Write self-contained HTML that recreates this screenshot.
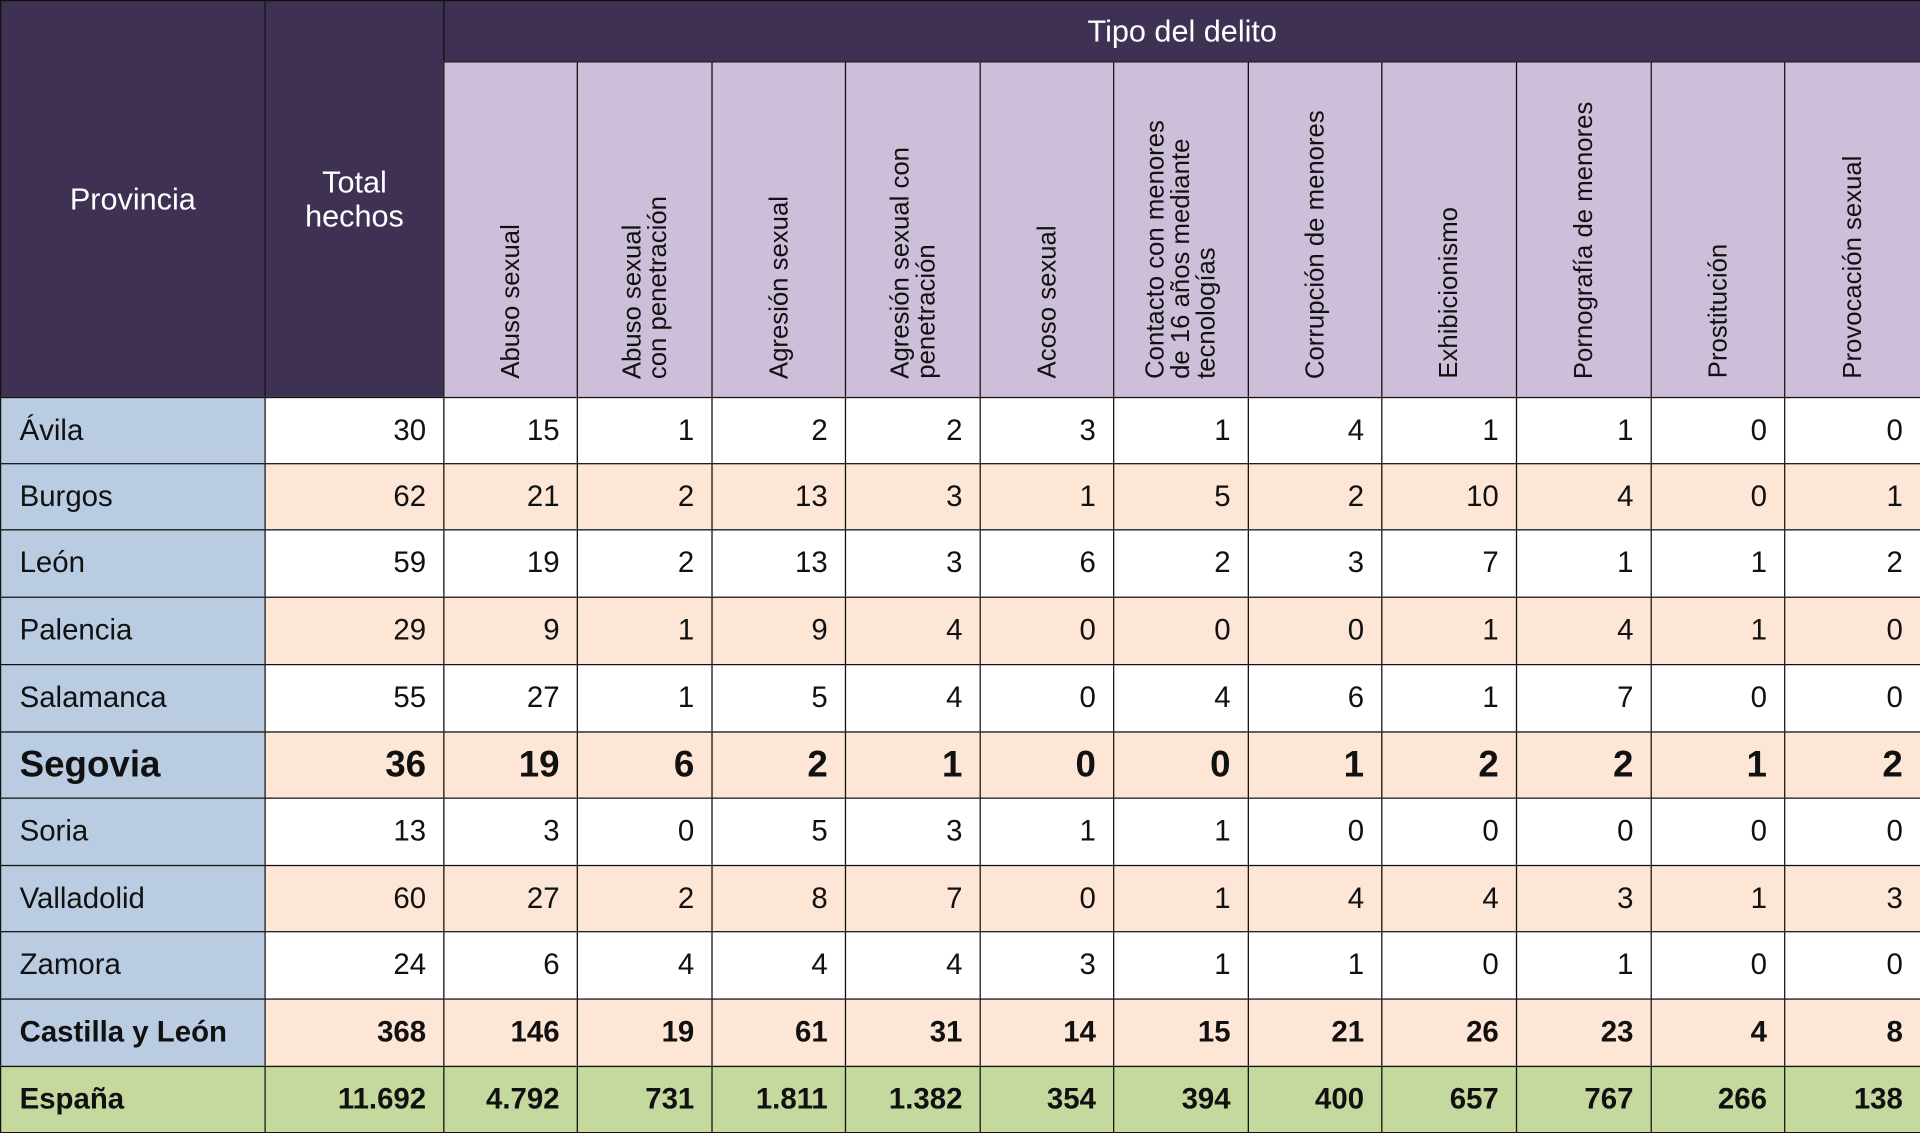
<!DOCTYPE html>
<html><head><meta charset="utf-8"><style>
html,body{margin:0;padding:0;background:#fff;overflow:hidden}
#wrap{position:absolute;left:0;top:0;width:1568px;height:924px;transform:scale(1.22449,1.22511);transform-origin:0 0;font-family:"Liberation Sans","DejaVu Sans",sans-serif}
.c{position:absolute;box-sizing:border-box;border:1.6px solid #111;display:flex;align-items:center}
.n{justify-content:flex-end;padding-right:14px;font-size:24px;color:#111}
.p{padding-left:15px;font-size:24px;color:#111;background:#b9cce2}
.h{background:#3f3153;color:#fff;justify-content:center;text-align:center;font-size:25px;line-height:28px}
.v{background:#cdbfd9;align-items:flex-end;justify-content:center;padding-bottom:15px}
.v span{writing-mode:vertical-rl;transform:rotate(180deg);font-size:21px;line-height:21px;color:#111;text-align:start}
.b{font-weight:bold}
</style></head><body><div id="wrap"></div>
<script>
const X=[0,216,362,471,581,690,800,909,1019,1128,1238,1348,1457,1568];
const Y=[324,378,432,487,542,597,651,706,760,815,870,924];
const W=document.getElementById('wrap');
function cell(x0,y0,x1,y1,cls,html,bg){const d=document.createElement('div');d.className='c '+cls;d.style.left=x0+'px';d.style.top=y0+'px';d.style.width=(x1-x0+1)+'px';d.style.height=(y1-y0+1)+'px';if(bg)d.style.background=bg;d.innerHTML=html;W.appendChild(d);}
cell(0,0,216,324,'h','Provincia');
cell(216,0,362,324,'h','Total<br>hechos');
cell(362,0,1568,50,'h','Tipo del delito');
const hd=['Abuso sexual','Abuso sexual<br>con penetración','Agresión sexual','Agresión sexual con<br>penetración','Acoso sexual','Contacto con menores<br>de 16 años mediante<br>tecnologías','Corrupción de menores','Exhibicionismo','Pornografía de menores','Prostitución','Provocación sexual'];
hd.forEach((t,i)=>cell(X[i+2],50,X[i+3],324,'v','<span>'+t+'</span>'));
const rows=[
['Ávila',30,15,1,2,2,3,1,4,1,1,0,0],
['Burgos',62,21,2,13,3,1,5,2,10,4,0,1],
['León',59,19,2,13,3,6,2,3,7,1,1,2],
['Palencia',29,9,1,9,4,0,0,0,1,4,1,0],
['Salamanca',55,27,1,5,4,0,4,6,1,7,0,0],
['Segovia',36,19,6,2,1,0,0,1,2,2,1,2],
['Soria',13,3,0,5,3,1,1,0,0,0,0,0],
['Valladolid',60,27,2,8,7,0,1,4,4,3,1,3],
['Zamora',24,6,4,4,4,3,1,1,0,1,0,0],
['Castilla y León',368,146,19,61,31,14,15,21,26,23,4,8],
['España','11.692','4.792',731,'1.811','1.382',354,394,400,657,767,266,138]];
rows.forEach((r,j)=>{
 const y0=Y[j],y1=Y[j+1];
 let bg=j%2==0?'#ffffff':'#fde6d6';
 let extra='',st='';
 if(j==5){extra=' b';st='font-size:30px';}
 if(j>=9)extra=' b';
 if(j==10)bg='#c5d89d';
 cell(0,y0,216,y1,'p'+extra,'<span style="'+st+'">'+r[0]+'</span>',j==10?'#c5d89d':null);
 for(let i=1;i<13;i++)cell(X[i],y0,X[i+1],y1,'n'+extra,'<span style="'+st+'">'+r[i]+'</span>',bg);
});
</script></body></html>
